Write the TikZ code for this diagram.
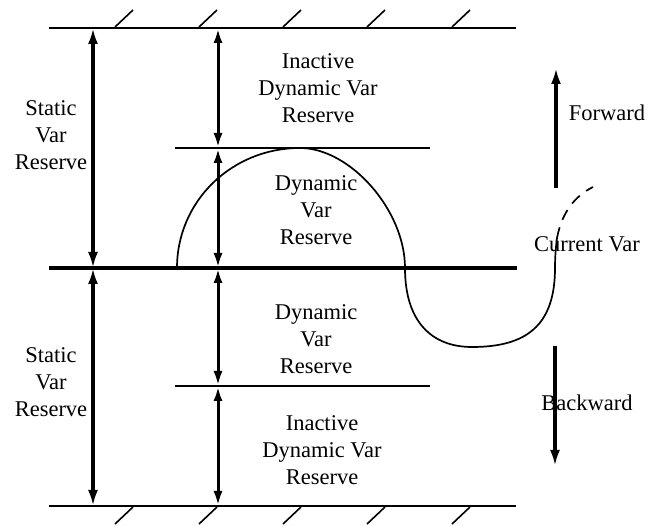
\documentclass[tikz,border=0pt]{standalone}
\usepackage{fontspec}
\setmainfont{Liberation Serif}
\usetikzlibrary{arrows.meta}
\begin{document}
\begin{tikzpicture}[x=1pt,y=-1pt,
  lbl/.style={align=center,font=\fontsize{22.5}{27}\selectfont,inner sep=0pt},
  bound/.style={line width=2.4pt},
  midline/.style={line width=4.2pt},
  level/.style={line width=2.6pt},
  hatch/.style={line width=1.6pt},
  bigarrow/.style={line width=4.2pt,{Latex[length=16pt,width=10pt]}-{Latex[length=16pt,width=10pt]}},
  smallarrow/.style={line width=3pt,{Latex[length=15pt,width=9pt]}-{Latex[length=15pt,width=9pt]}},
  dirarrow/.style={line width=4.2pt,-{Latex[length=16pt,width=10pt]}},
  curve/.style={line width=1.7pt},
  dashcurve/.style={line width=1.7pt,dash pattern=on 11pt off 8pt}]
\useasboundingbox (0,0) rectangle (651,526);

% horizontal lines
\coordinate (T1) at (49,28);   \coordinate (T2) at (516,28);
\coordinate (M1) at (49,268);  \coordinate (M2) at (517,268);
\coordinate (B1) at (49,506);  \coordinate (B2) at (516,506);
\coordinate (U1) at (175,148); \coordinate (U2) at (430,148);
\coordinate (L1) at (175,386); \coordinate (L2) at (430,386);
\draw[bound] (T1) -- (T2);
\draw[bound] (B1) -- (B2);
\draw[midline] (M1) -- (M2);
\draw[level] (U1) -- (U2);
\draw[level] (L1) -- (L2);

% hatches
\foreach \x in {115,199,283,367,452}{
  \draw[hatch] (\x,27) -- ++(18,-17);
  \draw[hatch] (\x,524) -- ++(18,-17);
}

% left double arrows
\coordinate (a1) at (93,28); \coordinate (a2) at (93,268); \coordinate (a3) at (93,506);
\draw[bigarrow] (a1) -- (a2);
\draw[bigarrow] (a2) -- (a3);

% inner double arrows
\coordinate (b1) at (218,28); \coordinate (b2) at (218,148); \coordinate (b3) at (218,268);
\coordinate (b4) at (218,386); \coordinate (b5) at (218,506);
\draw[smallarrow] (b1) -- (b2);
\draw[smallarrow] (b2) -- (b3);
\draw[smallarrow] (b3) -- (b4);
\draw[smallarrow] (b4) -- (b5);

% forward / backward arrows
\coordinate (f1) at (556,188); \coordinate (f2) at (556,68);
\coordinate (k1) at (555,346); \coordinate (k2) at (555,466);
\draw[dirarrow] (f1) -- (f2);
\draw[dirarrow] (k1) -- (k2);

% curve
\coordinate (c0) at (177,268);
\coordinate (c1) at (300,148);
\coordinate (c2) at (405,268);
\coordinate (c3) at (472,347);
\coordinate (c4) at (555,268);
\coordinate (c5) at (557,238);
\coordinate (c6) at (593,187);
\draw[curve] (c0) .. controls (177,201) and (232,148) .. (c1)
  .. controls (350,148) and (405,210) .. (c2)
  .. controls (405,322) and (432,347) .. (c3)
  .. controls (527,347) and (555,325) .. (c4)
  .. controls (555,256) and (556,246) .. (c5);
\draw[dashcurve] (c5) .. controls (562,212) and (575,196) .. (c6);

% labels
\node[lbl] (s1) at (51,135) {Static\\Var\\Reserve};
\node[lbl] (s2) at (51,382) {Static\\Var\\Reserve};
\node[lbl] (i1) at (318,88) {Inactive\\Dynamic Var\\Reserve};
\node[lbl] (d1) at (316,210) {Dynamic\\Var\\Reserve};
\node[lbl] (d2) at (316,339) {Dynamic\\Var\\Reserve};
\node[lbl] (i2) at (322,450) {Inactive\\Dynamic Var\\Reserve};
\node[lbl] (fw) at (607,113) {Forward};
\node[lbl] (cv) at (587,244) {Current Var};
\node[lbl] (bw) at (587,403) {Backward};
\end{tikzpicture}
\end{document}
